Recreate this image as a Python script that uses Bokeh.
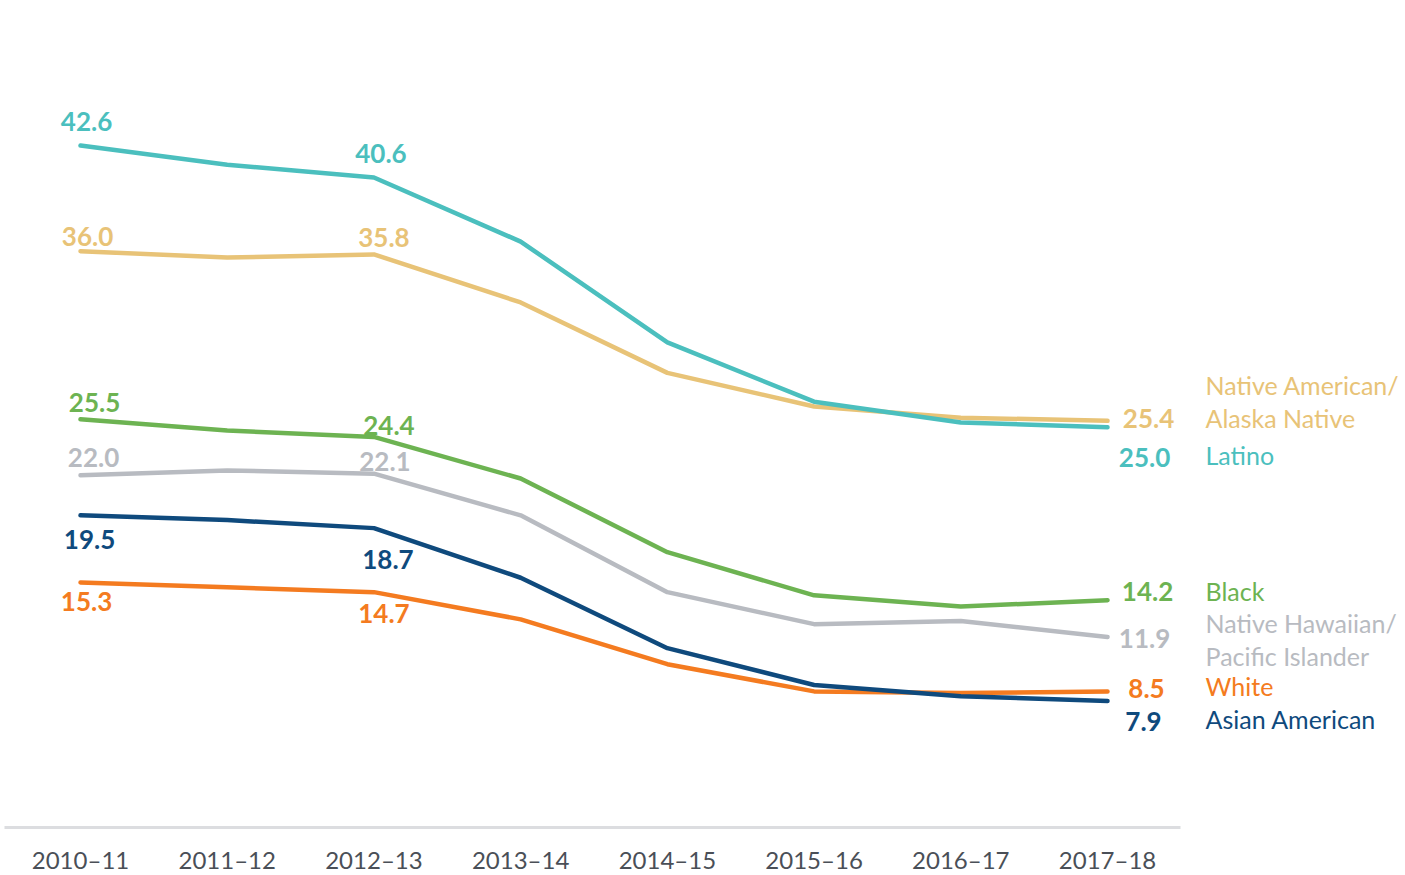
from bokeh.plotting import figure
from bokeh.models import Range1d, FixedTicker, ColumnDataSource
from bokeh.core.properties import value
from bokeh.embed import file_html
from bokeh.resources import INLINE

# ---- data ----
categories = ["2010–11", "2011–12", "2012–13", "2013–14",
              "2014–15", "2015–16", "2016–17", "2017–18"]

native_american = [36.0, 35.6, 35.8, 32.8, 28.4, 26.3, 25.6, 25.4]
latino = [42.6, 41.4, 40.6, 36.6, 30.3, 26.6, 25.3, 25.0]
black = [25.5, 24.8, 24.4, 21.8, 17.2, 14.5, 13.8, 14.2]
pacific_islander = [22.0, 22.3, 22.1, 19.5, 14.7, 12.7, 12.9, 11.9]
white = [15.3, 15.0, 14.7, 13.0, 10.2, 8.5, 8.4, 8.5]
asian_american = [19.5, 19.2, 18.7, 15.6, 11.2, 8.9, 8.2, 7.9]

labeled_points = [0, 2, 7]

# ---- styling / layout (screen-pixel offsets, +y = down) ----
series = [
    dict(names=["Native American/", "Alaska Native"], values=native_american, color="#E8C377",
         label_offsets=[(7, -15), (10, -17), (41, -2)], name_offsets=[-36, -3]),
    dict(names=["Latino"], values=latino, color="#4BBFBE",
         label_offsets=[(6, -24), (7, -24), (37, 30)], name_offsets=[28]),
    dict(names=["Black"], values=black, color="#6DB352",
         label_offsets=[(14, -17), (15, -11), (40, -9)], name_offsets=[-9]),
    dict(names=["Native Hawaiian/", "Pacific Islander"], values=pacific_islander, color="#B8BBC1",
         label_offsets=[(13, -18), (11, -12), (37, 2)], name_offsets=[-14, 19]),
    dict(names=["White"], values=white, color="#F47B20",
         label_offsets=[(6, 19), (10, 21), (39, -3)], name_offsets=[-5]),
    dict(names=["Asian American"], values=asian_american, color="#0F4A7D",
         label_offsets=[(9, 24), (14, 31), (36, 20)], name_offsets=[18]),
]

FONT = "Lato"

p = figure(width=1405, height=875, output_backend="svg", toolbar_location=None,
           x_range=Range1d(-0.5453, 9.031), y_range=Range1d(-3.0, 51.66),
           y_axis_location=None, min_border=0)
p.outline_line_color = None
p.grid.grid_line_color = None
p.background_fill_color = "white"
p.border_fill_color = "white"

xs = list(range(len(categories)))

for s in series:
    p.line(xs, s["values"], line_color=s["color"], line_width=4.5, line_join="round", line_cap="round")

for s in series:
    src = ColumnDataSource(dict(
        x=[xs[i] for i in labeled_points],
        y=[s["values"][i] for i in labeled_points],
        t=["{:.1f}".format(s["values"][i]) for i in labeled_points],
        dx=[o[0] for o in s["label_offsets"]],
        dy=[o[1] for o in s["label_offsets"]],
    ))
    p.text(x="x", y="y", text="t", x_offset="dx", y_offset="dy", source=src,
           text_color=s["color"], text_font=value(FONT), text_font_style="bold",
           text_font_size="26px", text_align="center", text_baseline="middle")
    nsrc = ColumnDataSource(dict(
        x=[xs[-1]] * len(s["names"]),
        y=[s["values"][-1]] * len(s["names"]),
        t=s["names"],
        dy=s["name_offsets"],
    ))
    p.text(x="x", y="y", text="t", x_offset=98, y_offset="dy", source=nsrc,
           text_color=s["color"], text_font=value(FONT), text_font_size="25px",
           text_align="left", text_baseline="middle")

ax = p.xaxis[0]
ax.fixed_location = 0
ax.bounds = (-0.52, 7.5)
ax.ticker = FixedTicker(ticks=xs)
ax.major_label_overrides = {i: c for i, c in zip(xs, categories)}
ax.axis_line_color = "#DCDDE0"
ax.axis_line_width = 3
ax.major_tick_line_color = None
ax.minor_tick_line_color = None
ax.major_tick_out = 0
ax.major_tick_in = 0
ax.major_label_standoff = 18
ax.major_label_text_font = FONT
ax.major_label_text_font_size = "24px"
ax.major_label_text_color = "#4A4F57"

open("out.html", "w").write(file_html(p, INLINE))
